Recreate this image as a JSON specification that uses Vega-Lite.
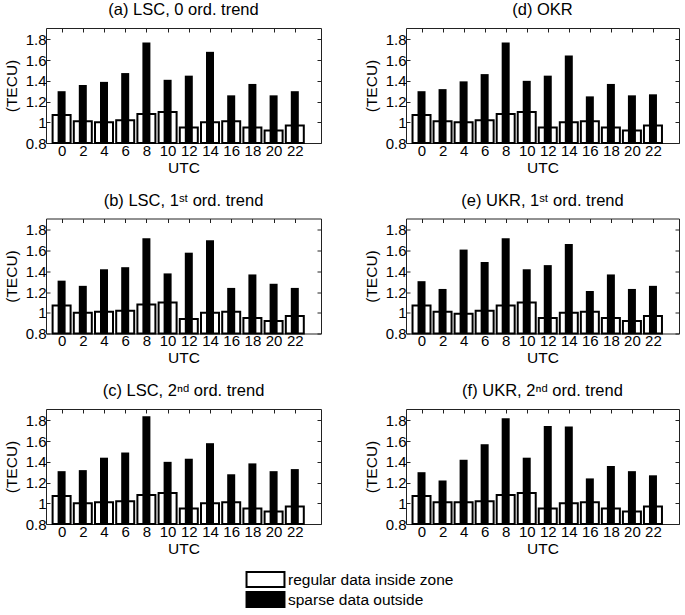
{
  "$schema": "https://vega.github.io/schema/vega-lite/v6.json",
  "padding": {"left": 3, "top": 1, "right": 0, "bottom": 0},
  "background": "white",
  "datasets": {
    "bars": [
      {"panel":"a","utc":0,"series":"regular data inside zone","value":1.07},
      {"panel":"a","utc":2,"series":"regular data inside zone","value":1.01},
      {"panel":"a","utc":4,"series":"regular data inside zone","value":1.00},
      {"panel":"a","utc":6,"series":"regular data inside zone","value":1.02},
      {"panel":"a","utc":8,"series":"regular data inside zone","value":1.08},
      {"panel":"a","utc":10,"series":"regular data inside zone","value":1.10},
      {"panel":"a","utc":12,"series":"regular data inside zone","value":0.95},
      {"panel":"a","utc":14,"series":"regular data inside zone","value":1.00},
      {"panel":"a","utc":16,"series":"regular data inside zone","value":1.01},
      {"panel":"a","utc":18,"series":"regular data inside zone","value":0.95},
      {"panel":"a","utc":20,"series":"regular data inside zone","value":0.92},
      {"panel":"a","utc":22,"series":"regular data inside zone","value":0.97},
      {"panel":"a","utc":0,"series":"sparse data outside","value":1.30},
      {"panel":"a","utc":2,"series":"sparse data outside","value":1.36},
      {"panel":"a","utc":4,"series":"sparse data outside","value":1.39},
      {"panel":"a","utc":6,"series":"sparse data outside","value":1.475},
      {"panel":"a","utc":8,"series":"sparse data outside","value":1.77},
      {"panel":"a","utc":10,"series":"sparse data outside","value":1.41},
      {"panel":"a","utc":12,"series":"sparse data outside","value":1.45},
      {"panel":"a","utc":14,"series":"sparse data outside","value":1.68},
      {"panel":"a","utc":16,"series":"sparse data outside","value":1.26},
      {"panel":"a","utc":18,"series":"sparse data outside","value":1.37},
      {"panel":"a","utc":20,"series":"sparse data outside","value":1.26},
      {"panel":"a","utc":22,"series":"sparse data outside","value":1.30},

      {"panel":"b","utc":0,"series":"regular data inside zone","value":1.07},
      {"panel":"b","utc":2,"series":"regular data inside zone","value":1.00},
      {"panel":"b","utc":4,"series":"regular data inside zone","value":1.01},
      {"panel":"b","utc":6,"series":"regular data inside zone","value":1.02},
      {"panel":"b","utc":8,"series":"regular data inside zone","value":1.08},
      {"panel":"b","utc":10,"series":"regular data inside zone","value":1.10},
      {"panel":"b","utc":12,"series":"regular data inside zone","value":0.94},
      {"panel":"b","utc":14,"series":"regular data inside zone","value":1.00},
      {"panel":"b","utc":16,"series":"regular data inside zone","value":1.01},
      {"panel":"b","utc":18,"series":"regular data inside zone","value":0.95},
      {"panel":"b","utc":20,"series":"regular data inside zone","value":0.92},
      {"panel":"b","utc":22,"series":"regular data inside zone","value":0.97},
      {"panel":"b","utc":0,"series":"sparse data outside","value":1.31},
      {"panel":"b","utc":2,"series":"sparse data outside","value":1.26},
      {"panel":"b","utc":4,"series":"sparse data outside","value":1.42},
      {"panel":"b","utc":6,"series":"sparse data outside","value":1.44},
      {"panel":"b","utc":8,"series":"sparse data outside","value":1.72},
      {"panel":"b","utc":10,"series":"sparse data outside","value":1.38},
      {"panel":"b","utc":12,"series":"sparse data outside","value":1.58},
      {"panel":"b","utc":14,"series":"sparse data outside","value":1.70},
      {"panel":"b","utc":16,"series":"sparse data outside","value":1.24},
      {"panel":"b","utc":18,"series":"sparse data outside","value":1.37},
      {"panel":"b","utc":20,"series":"sparse data outside","value":1.28},
      {"panel":"b","utc":22,"series":"sparse data outside","value":1.24},

      {"panel":"c","utc":0,"series":"regular data inside zone","value":1.07},
      {"panel":"c","utc":2,"series":"regular data inside zone","value":1.00},
      {"panel":"c","utc":4,"series":"regular data inside zone","value":1.01},
      {"panel":"c","utc":6,"series":"regular data inside zone","value":1.02},
      {"panel":"c","utc":8,"series":"regular data inside zone","value":1.08},
      {"panel":"c","utc":10,"series":"regular data inside zone","value":1.10},
      {"panel":"c","utc":12,"series":"regular data inside zone","value":0.95},
      {"panel":"c","utc":14,"series":"regular data inside zone","value":1.00},
      {"panel":"c","utc":16,"series":"regular data inside zone","value":1.01},
      {"panel":"c","utc":18,"series":"regular data inside zone","value":0.95},
      {"panel":"c","utc":20,"series":"regular data inside zone","value":0.92},
      {"panel":"c","utc":22,"series":"regular data inside zone","value":0.97},
      {"panel":"c","utc":0,"series":"sparse data outside","value":1.31},
      {"panel":"c","utc":2,"series":"sparse data outside","value":1.32},
      {"panel":"c","utc":4,"series":"sparse data outside","value":1.44},
      {"panel":"c","utc":6,"series":"sparse data outside","value":1.49},
      {"panel":"c","utc":8,"series":"sparse data outside","value":1.84},
      {"panel":"c","utc":10,"series":"sparse data outside","value":1.40},
      {"panel":"c","utc":12,"series":"sparse data outside","value":1.43},
      {"panel":"c","utc":14,"series":"sparse data outside","value":1.58},
      {"panel":"c","utc":16,"series":"sparse data outside","value":1.28},
      {"panel":"c","utc":18,"series":"sparse data outside","value":1.385},
      {"panel":"c","utc":20,"series":"sparse data outside","value":1.31},
      {"panel":"c","utc":22,"series":"sparse data outside","value":1.33},

      {"panel":"d","utc":0,"series":"regular data inside zone","value":1.07},
      {"panel":"d","utc":2,"series":"regular data inside zone","value":1.01},
      {"panel":"d","utc":4,"series":"regular data inside zone","value":1.00},
      {"panel":"d","utc":6,"series":"regular data inside zone","value":1.02},
      {"panel":"d","utc":8,"series":"regular data inside zone","value":1.08},
      {"panel":"d","utc":10,"series":"regular data inside zone","value":1.10},
      {"panel":"d","utc":12,"series":"regular data inside zone","value":0.95},
      {"panel":"d","utc":14,"series":"regular data inside zone","value":1.00},
      {"panel":"d","utc":16,"series":"regular data inside zone","value":1.01},
      {"panel":"d","utc":18,"series":"regular data inside zone","value":0.95},
      {"panel":"d","utc":20,"series":"regular data inside zone","value":0.92},
      {"panel":"d","utc":22,"series":"regular data inside zone","value":0.97},
      {"panel":"d","utc":0,"series":"sparse data outside","value":1.30},
      {"panel":"d","utc":2,"series":"sparse data outside","value":1.32},
      {"panel":"d","utc":4,"series":"sparse data outside","value":1.395},
      {"panel":"d","utc":6,"series":"sparse data outside","value":1.465},
      {"panel":"d","utc":8,"series":"sparse data outside","value":1.77},
      {"panel":"d","utc":10,"series":"sparse data outside","value":1.40},
      {"panel":"d","utc":12,"series":"sparse data outside","value":1.45},
      {"panel":"d","utc":14,"series":"sparse data outside","value":1.645},
      {"panel":"d","utc":16,"series":"sparse data outside","value":1.25},
      {"panel":"d","utc":18,"series":"sparse data outside","value":1.37},
      {"panel":"d","utc":20,"series":"sparse data outside","value":1.26},
      {"panel":"d","utc":22,"series":"sparse data outside","value":1.27},

      {"panel":"e","utc":0,"series":"regular data inside zone","value":1.07},
      {"panel":"e","utc":2,"series":"regular data inside zone","value":1.01},
      {"panel":"e","utc":4,"series":"regular data inside zone","value":0.99},
      {"panel":"e","utc":6,"series":"regular data inside zone","value":1.02},
      {"panel":"e","utc":8,"series":"regular data inside zone","value":1.07},
      {"panel":"e","utc":10,"series":"regular data inside zone","value":1.10},
      {"panel":"e","utc":12,"series":"regular data inside zone","value":0.95},
      {"panel":"e","utc":14,"series":"regular data inside zone","value":1.00},
      {"panel":"e","utc":16,"series":"regular data inside zone","value":1.01},
      {"panel":"e","utc":18,"series":"regular data inside zone","value":0.95},
      {"panel":"e","utc":20,"series":"regular data inside zone","value":0.92},
      {"panel":"e","utc":22,"series":"regular data inside zone","value":0.97},
      {"panel":"e","utc":0,"series":"sparse data outside","value":1.305},
      {"panel":"e","utc":2,"series":"sparse data outside","value":1.23},
      {"panel":"e","utc":4,"series":"sparse data outside","value":1.61},
      {"panel":"e","utc":6,"series":"sparse data outside","value":1.49},
      {"panel":"e","utc":8,"series":"sparse data outside","value":1.72},
      {"panel":"e","utc":10,"series":"sparse data outside","value":1.42},
      {"panel":"e","utc":12,"series":"sparse data outside","value":1.46},
      {"panel":"e","utc":14,"series":"sparse data outside","value":1.665},
      {"panel":"e","utc":16,"series":"sparse data outside","value":1.21},
      {"panel":"e","utc":18,"series":"sparse data outside","value":1.37},
      {"panel":"e","utc":20,"series":"sparse data outside","value":1.23},
      {"panel":"e","utc":22,"series":"sparse data outside","value":1.26},

      {"panel":"f","utc":0,"series":"regular data inside zone","value":1.07},
      {"panel":"f","utc":2,"series":"regular data inside zone","value":1.01},
      {"panel":"f","utc":4,"series":"regular data inside zone","value":1.01},
      {"panel":"f","utc":6,"series":"regular data inside zone","value":1.02},
      {"panel":"f","utc":8,"series":"regular data inside zone","value":1.08},
      {"panel":"f","utc":10,"series":"regular data inside zone","value":1.10},
      {"panel":"f","utc":12,"series":"regular data inside zone","value":0.95},
      {"panel":"f","utc":14,"series":"regular data inside zone","value":1.00},
      {"panel":"f","utc":16,"series":"regular data inside zone","value":1.01},
      {"panel":"f","utc":18,"series":"regular data inside zone","value":0.95},
      {"panel":"f","utc":20,"series":"regular data inside zone","value":0.92},
      {"panel":"f","utc":22,"series":"regular data inside zone","value":0.97},
      {"panel":"f","utc":0,"series":"sparse data outside","value":1.30},
      {"panel":"f","utc":2,"series":"sparse data outside","value":1.22},
      {"panel":"f","utc":4,"series":"sparse data outside","value":1.42},
      {"panel":"f","utc":6,"series":"sparse data outside","value":1.57},
      {"panel":"f","utc":8,"series":"sparse data outside","value":1.82},
      {"panel":"f","utc":10,"series":"sparse data outside","value":1.44},
      {"panel":"f","utc":12,"series":"sparse data outside","value":1.745},
      {"panel":"f","utc":14,"series":"sparse data outside","value":1.74},
      {"panel":"f","utc":16,"series":"sparse data outside","value":1.24},
      {"panel":"f","utc":18,"series":"sparse data outside","value":1.36},
      {"panel":"f","utc":20,"series":"sparse data outside","value":1.31},
      {"panel":"f","utc":22,"series":"sparse data outside","value":1.27}
    ]
  },
  "data": {"name": "bars"},
  "spacing": 15.5,
  "vconcat": [
    {"spacing": 41, "hconcat": [
      {"title": "(a) LSC, 0 ord. trend", "width": 275, "height": 115,
       "transform": [{"filter": "datum.panel == 'a'"}],
       "layer": [
        {"transform": [{"filter": "datum.series == 'regular data inside zone'"}],
         "mark": {"type": "bar", "width": 18, "stroke": "black", "strokeWidth": 2},
         "encoding": {
          "x": {"field": "utc", "type": "quantitative", "scale": {"domain": [-1, 24], "nice": false}, "axis": {"orient": "top", "values": [0,2,4,6,8,10,12,14,16,18,20,22], "labels": false, "title": null}},
          "y": {"field": "value", "type": "quantitative", "scale": {"domain": [0.8, 1.91], "zero": false, "nice": false}, "axis": {"orient": "right", "values": [0.8,1,1.2,1.4,1.6,1.8], "labels": false, "title": null}},
          "y2": {"datum": 0.8},
          "fill": {"field": "series", "type": "nominal", "scale": {"domain": ["regular data inside zone", "sparse data outside"], "range": ["white", "black"]}, "legend": {"title": null}}}},
        {"transform": [{"filter": "datum.series == 'sparse data outside'"}],
         "mark": {"type": "bar", "width": 8},
         "encoding": {
          "x": {"field": "utc", "type": "quantitative", "axis": {"orient": "bottom", "values": [0,2,4,6,8,10,12,14,16,18,20,22], "title": "UTC"}},
          "y": {"field": "value", "type": "quantitative", "axis": {"orient": "left", "values": [0.8,1,1.2,1.4,1.6,1.8], "format": "~g", "title": "(TECU)"}},
          "y2": {"datum": 0.8},
          "fill": {"field": "series", "type": "nominal"}}}
       ],
       "resolve": {"axis": {"x": "independent", "y": "independent"}}},
      {"title": "(d) OKR", "width": 273, "height": 115,
       "transform": [{"filter": "datum.panel == 'd'"}],
       "layer": [
        {"transform": [{"filter": "datum.series == 'regular data inside zone'"}],
         "mark": {"type": "bar", "width": 18, "stroke": "black", "strokeWidth": 2},
         "encoding": {
          "x": {"field": "utc", "type": "quantitative", "scale": {"domain": [-1, 24], "nice": false}, "axis": {"orient": "top", "values": [0,2,4,6,8,10,12,14,16,18,20,22], "labels": false, "title": null}},
          "y": {"field": "value", "type": "quantitative", "scale": {"domain": [0.8, 1.91], "zero": false, "nice": false}, "axis": {"orient": "right", "values": [0.8,1,1.2,1.4,1.6,1.8], "labels": false, "title": null}},
          "y2": {"datum": 0.8},
          "fill": {"field": "series", "type": "nominal", "legend": {"title": null}}}},
        {"transform": [{"filter": "datum.series == 'sparse data outside'"}],
         "mark": {"type": "bar", "width": 8},
         "encoding": {
          "x": {"field": "utc", "type": "quantitative", "axis": {"orient": "bottom", "values": [0,2,4,6,8,10,12,14,16,18,20,22], "title": "UTC"}},
          "y": {"field": "value", "type": "quantitative", "axis": {"orient": "left", "values": [0.8,1,1.2,1.4,1.6,1.8], "format": "~g", "title": "(TECU)"}},
          "y2": {"datum": 0.8},
          "fill": {"field": "series", "type": "nominal"}}}
       ],
       "resolve": {"axis": {"x": "independent", "y": "independent"}}}
    ]},
    {"spacing": 41, "hconcat": [
      {"title": "(b) LSC, 1ˢᵗ ord. trend", "width": 275, "height": 115,
       "transform": [{"filter": "datum.panel == 'b'"}],
       "layer": [
        {"transform": [{"filter": "datum.series == 'regular data inside zone'"}],
         "mark": {"type": "bar", "width": 18, "stroke": "black", "strokeWidth": 2},
         "encoding": {
          "x": {"field": "utc", "type": "quantitative", "scale": {"domain": [-1, 24], "nice": false}, "axis": {"orient": "top", "values": [0,2,4,6,8,10,12,14,16,18,20,22], "labels": false, "title": null}},
          "y": {"field": "value", "type": "quantitative", "scale": {"domain": [0.8, 1.91], "zero": false, "nice": false}, "axis": {"orient": "right", "values": [0.8,1,1.2,1.4,1.6,1.8], "labels": false, "title": null}},
          "y2": {"datum": 0.8},
          "fill": {"field": "series", "type": "nominal", "legend": {"title": null}}}},
        {"transform": [{"filter": "datum.series == 'sparse data outside'"}],
         "mark": {"type": "bar", "width": 8},
         "encoding": {
          "x": {"field": "utc", "type": "quantitative", "axis": {"orient": "bottom", "values": [0,2,4,6,8,10,12,14,16,18,20,22], "title": "UTC"}},
          "y": {"field": "value", "type": "quantitative", "axis": {"orient": "left", "values": [0.8,1,1.2,1.4,1.6,1.8], "format": "~g", "title": "(TECU)"}},
          "y2": {"datum": 0.8},
          "fill": {"field": "series", "type": "nominal"}}}
       ],
       "resolve": {"axis": {"x": "independent", "y": "independent"}}},
      {"title": "(e) UKR, 1ˢᵗ ord. trend", "width": 273, "height": 115,
       "transform": [{"filter": "datum.panel == 'e'"}],
       "layer": [
        {"transform": [{"filter": "datum.series == 'regular data inside zone'"}],
         "mark": {"type": "bar", "width": 18, "stroke": "black", "strokeWidth": 2},
         "encoding": {
          "x": {"field": "utc", "type": "quantitative", "scale": {"domain": [-1, 24], "nice": false}, "axis": {"orient": "top", "values": [0,2,4,6,8,10,12,14,16,18,20,22], "labels": false, "title": null}},
          "y": {"field": "value", "type": "quantitative", "scale": {"domain": [0.8, 1.91], "zero": false, "nice": false}, "axis": {"orient": "right", "values": [0.8,1,1.2,1.4,1.6,1.8], "labels": false, "title": null}},
          "y2": {"datum": 0.8},
          "fill": {"field": "series", "type": "nominal", "legend": {"title": null}}}},
        {"transform": [{"filter": "datum.series == 'sparse data outside'"}],
         "mark": {"type": "bar", "width": 8},
         "encoding": {
          "x": {"field": "utc", "type": "quantitative", "axis": {"orient": "bottom", "values": [0,2,4,6,8,10,12,14,16,18,20,22], "title": "UTC"}},
          "y": {"field": "value", "type": "quantitative", "axis": {"orient": "left", "values": [0.8,1,1.2,1.4,1.6,1.8], "format": "~g", "title": "(TECU)"}},
          "y2": {"datum": 0.8},
          "fill": {"field": "series", "type": "nominal"}}}
       ],
       "resolve": {"axis": {"x": "independent", "y": "independent"}}}
    ]},
    {"spacing": 41, "hconcat": [
      {"title": "(c) LSC, 2ⁿᵈ ord. trend", "width": 275, "height": 115,
       "transform": [{"filter": "datum.panel == 'c'"}],
       "layer": [
        {"transform": [{"filter": "datum.series == 'regular data inside zone'"}],
         "mark": {"type": "bar", "width": 18, "stroke": "black", "strokeWidth": 2},
         "encoding": {
          "x": {"field": "utc", "type": "quantitative", "scale": {"domain": [-1, 24], "nice": false}, "axis": {"orient": "top", "values": [0,2,4,6,8,10,12,14,16,18,20,22], "labels": false, "title": null}},
          "y": {"field": "value", "type": "quantitative", "scale": {"domain": [0.8, 1.91], "zero": false, "nice": false}, "axis": {"orient": "right", "values": [0.8,1,1.2,1.4,1.6,1.8], "labels": false, "title": null}},
          "y2": {"datum": 0.8},
          "fill": {"field": "series", "type": "nominal", "legend": {"title": null}}}},
        {"transform": [{"filter": "datum.series == 'sparse data outside'"}],
         "mark": {"type": "bar", "width": 8},
         "encoding": {
          "x": {"field": "utc", "type": "quantitative", "axis": {"orient": "bottom", "values": [0,2,4,6,8,10,12,14,16,18,20,22], "title": "UTC"}},
          "y": {"field": "value", "type": "quantitative", "axis": {"orient": "left", "values": [0.8,1,1.2,1.4,1.6,1.8], "format": "~g", "title": "(TECU)"}},
          "y2": {"datum": 0.8},
          "fill": {"field": "series", "type": "nominal"}}}
       ],
       "resolve": {"axis": {"x": "independent", "y": "independent"}}},
      {"title": "(f) UKR, 2ⁿᵈ ord. trend", "width": 273, "height": 115,
       "transform": [{"filter": "datum.panel == 'f'"}],
       "layer": [
        {"transform": [{"filter": "datum.series == 'regular data inside zone'"}],
         "mark": {"type": "bar", "width": 18, "stroke": "black", "strokeWidth": 2},
         "encoding": {
          "x": {"field": "utc", "type": "quantitative", "scale": {"domain": [-1, 24], "nice": false}, "axis": {"orient": "top", "values": [0,2,4,6,8,10,12,14,16,18,20,22], "labels": false, "title": null}},
          "y": {"field": "value", "type": "quantitative", "scale": {"domain": [0.8, 1.91], "zero": false, "nice": false}, "axis": {"orient": "right", "values": [0.8,1,1.2,1.4,1.6,1.8], "labels": false, "title": null}},
          "y2": {"datum": 0.8},
          "fill": {"field": "series", "type": "nominal", "legend": {"title": null}}}},
        {"transform": [{"filter": "datum.series == 'sparse data outside'"}],
         "mark": {"type": "bar", "width": 8},
         "encoding": {
          "x": {"field": "utc", "type": "quantitative", "axis": {"orient": "bottom", "values": [0,2,4,6,8,10,12,14,16,18,20,22], "title": "UTC"}},
          "y": {"field": "value", "type": "quantitative", "axis": {"orient": "left", "values": [0.8,1,1.2,1.4,1.6,1.8], "format": "~g", "title": "(TECU)"}},
          "y2": {"datum": 0.8},
          "fill": {"field": "series", "type": "nominal"}}}
       ],
       "resolve": {"axis": {"x": "independent", "y": "independent"}}}
    ]}
  ],
  "resolve": {"scale": {"fill": "shared"}},
  "config": {
    "font": "Liberation Sans",
    "view": {"stroke": "#222222", "strokeWidth": 1},
    "bar": {"stroke": null, "opacity": 1},
    "title": {"fontSize": 16.5, "fontWeight": "normal", "font": "Liberation Sans", "color": "black", "offset": 9},
    "axis": {"domain": false, "tickSize": -4, "tickColor": "#222222", "tickWidth": 1, "grid": false, "labelFont": "Liberation Sans", "labelFontSize": 15, "labelColor": "black", "labelPadding": 4, "titleFont": "Liberation Sans", "titleFontSize": 15.5, "titleFontWeight": "normal", "titleColor": "black"},
    "axisX": {"labelPadding": 4, "titlePadding": 2},
    "axisY": {"titlePadding": 6},
    "legend": {"orient": "none", "legendX": 211, "legendY": 543, "direction": "vertical", "symbolType": "M-2.53,-1H2.53V1H-2.53Z", "symbolSize": 225, "symbolStrokeColor": "black", "symbolStrokeWidth": 2, "symbolOpacity": 1, "labelFont": "Liberation Sans", "labelFontSize": 15.5, "labelColor": "black", "labelOffset": 14, "labelLimit": 400, "rowPadding": -5, "padding": 0}
  }
}
